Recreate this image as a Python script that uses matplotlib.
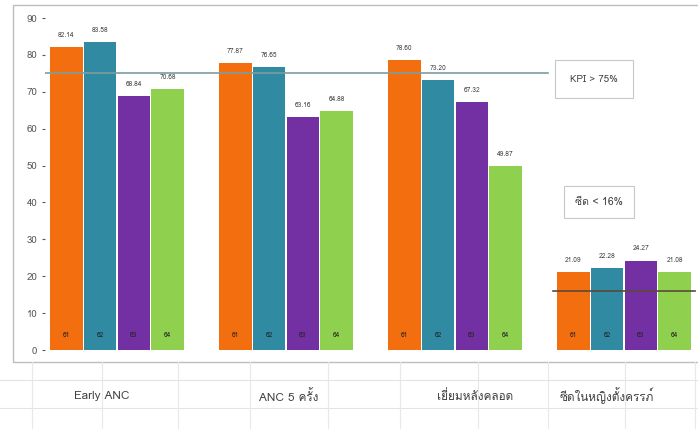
import matplotlib
matplotlib.use("Agg")
import matplotlib.pyplot as plt
from matplotlib import font_manager
from matplotlib.ft2font import FT2Font
from matplotlib.patches import Rectangle
from matplotlib.lines import Line2D
import numpy as np

# --- data ---
categories = ["Early ANC", "ANC 5 ครั้ง", "เยี่ยมหลังคลอด", "ซีดในหญิงตั้งครรภ์"]
years = ["61", "62", "63", "64"]
y61 = [82.14, 77.87, 78.60, 21.09]
y62 = [83.58, 76.65, 73.20, 22.28]
y63 = [68.84, 63.16, 67.32, 24.27]
y64 = [70.68, 64.88, 49.87, 21.08]
kpi_anc = 75
kpi_anemia = 16
colors = ["#F26E0E", "#2F8AA2", "#7230A2", "#8FD04E"]

# หา font ที่มีอักษรไทย
thai_font = None
for f in font_manager.fontManager.ttflist:
    try:
        if 0x0E01 in FT2Font(f.fname).get_charmap():
            thai_font = f.name
            break
    except Exception:
        continue
fams = [thai_font, "DejaVu Sans"] if thai_font else ["DejaVu Sans"]
plt.rcParams['font.family'] = fams

W, H = 698, 429
fig = plt.figure(figsize=(W / 100, H / 100), dpi=100)

def fx(px):
    return px / W

def fy(py):
    return 1 - py / H

# กรอบกราฟแบบ Excel + เส้นตารางด้านล่าง
for ypx in [380, 408]:
    fig.add_artist(Line2D([0, 1], [fy(ypx), fy(ypx)], color="#e4e4e4", lw=0.8))
for xpx in [32, 102, 178, 250, 328, 400, 478, 548, 625, 695]:
    fig.add_artist(Line2D([fx(xpx), fx(xpx)], [fy(362), 0], color="#e8e8e8", lw=0.8))
fig.add_artist(Rectangle((fx(13), fy(362)), fx(698) - fx(13) + 0.01, fy(5) - fy(362),
                         fill=False, ec="#bdbdbd", lw=1.0))

ax = fig.add_axes([fx(45), fy(350), fx(698) - fx(45), fy(10) - fy(350)])
x = np.arange(len(categories))
w = 0.2
series = [y61, y62, y63, y64]
for i, vals in enumerate(series):
    xs = x + (i - 1.5) * w
    ax.bar(xs, vals, width=w * 0.96, color=colors[i], zorder=2)
    for xi, v in zip(xs, vals):
        ax.text(xi, v + 2.2, f"{v:.2f}", ha="center", va="bottom", fontsize=4.8, color="#404040")
        ax.text(xi, 3, years[i], ha="center", va="bottom", fontsize=4.8, color="#222222")

# เส้น KPI
ax.plot([-0.45, 2.55], [kpi_anc, kpi_anc], color="#7d9e9c", lw=1.2, zorder=3)
ax.plot([2.58, 3.42], [kpi_anemia, kpi_anemia], color="#5a4a3a", lw=1.2, zorder=3)

ax.set_xlim(-0.426, 3.438)
ax.set_ylim(0, 92.2)
ax.set_yticks(range(0, 91, 10))
ax.tick_params(axis="y", labelsize=7, colors="#595959", length=2)
ax.set_xticks([])
for s in ax.spines.values():
    s.set_visible(False)

# กล่องข้อความ KPI
fig.text(fx(594), fy(79), "KPI > 75%", ha="center", va="center", fontsize=7, color="#404040",
         bbox=dict(boxstyle="square,pad=1.5", fc="white", ec="#c8c8c8", lw=0.8))
fig.text(fx(599), fy(202), "ซีด < 16%", ha="center", va="center", fontsize=7.5, color="#404040",
         bbox=dict(boxstyle="square,pad=1.1", fc="white", ec="#c8c8c8", lw=0.8))

# ชื่อหมวดด้านล่าง
for cx, lab in zip([102, 289, 475, 607], categories):
    fig.text(fx(cx), fy(396), lab, ha="center", va="center", fontsize=8.5, color="#404040")

fig.savefig("out.png", dpi=100)
